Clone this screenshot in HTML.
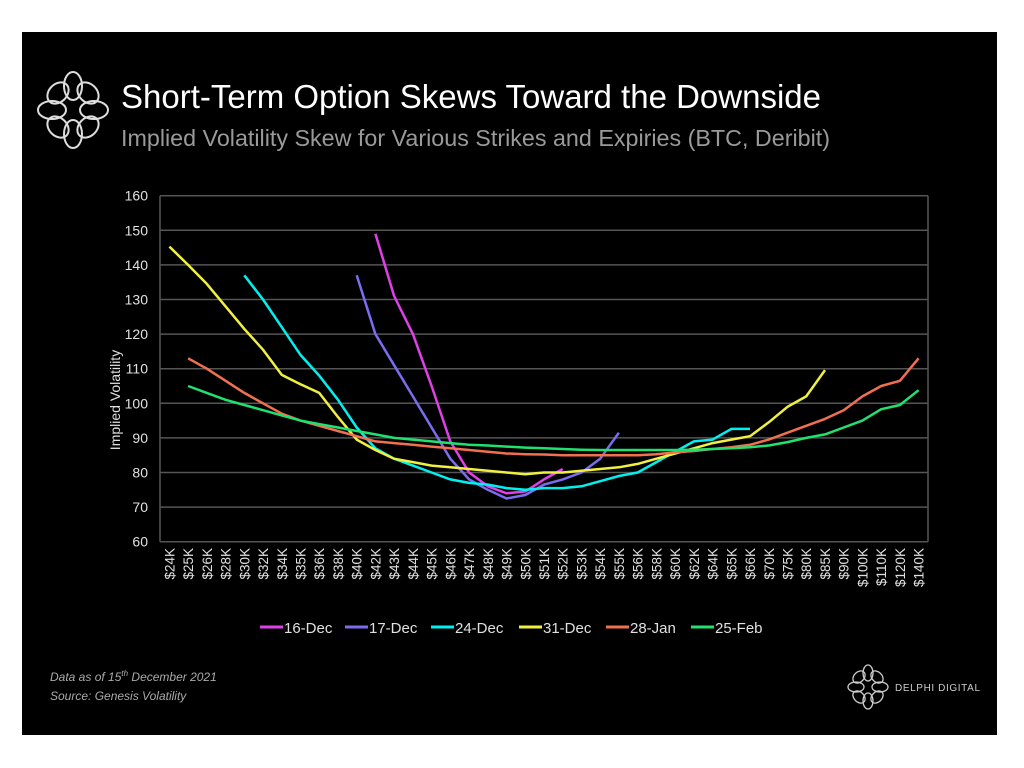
<!DOCTYPE html>
<html><head><meta charset="utf-8"><style>
html,body{margin:0;padding:0;background:#fff;width:1024px;height:768px;overflow:hidden}
svg{display:block}
text{font-family:"Liberation Sans",sans-serif}
</style></head><body>
<svg width="1024" height="768" viewBox="0 0 1024 768" xmlns="http://www.w3.org/2000/svg">
<rect x="22" y="32" width="975" height="703" fill="#000"/>
<g fill="none" stroke="#ddd" stroke-width="2">
<ellipse cx="73" cy="86" rx="9" ry="14"/><ellipse cx="73" cy="134" rx="9" ry="14"/>
<ellipse cx="52" cy="110" rx="14" ry="9"/><ellipse cx="94" cy="110" rx="14" ry="9"/>
<ellipse cx="58" cy="93" rx="12" ry="9" transform="rotate(-45 58 93)"/><ellipse cx="88" cy="93" rx="12" ry="9" transform="rotate(45 88 93)"/>
<ellipse cx="58" cy="127" rx="12" ry="9" transform="rotate(45 58 127)"/><ellipse cx="88" cy="127" rx="12" ry="9" transform="rotate(-45 88 127)"/>
</g>
<text x="121" y="108" fill="#fff" font-size="33" textLength="700" lengthAdjust="spacingAndGlyphs">Short-Term Option Skews Toward the Downside</text>
<text x="121" y="146" fill="#9a9a9a" font-size="23" textLength="709" lengthAdjust="spacingAndGlyphs">Implied Volatility Skew for Various Strikes and Expiries (BTC, Deribit)</text>
<g id="grid" stroke="#555" stroke-width="1.5"></g>
<g id="ylab" fill="#e0e0e0" font-size="14" text-anchor="end"></g>
<g id="xlab" fill="#e0e0e0" font-size="13.5"></g>
<text transform="translate(120 400) rotate(-90)" fill="#e0e0e0" font-size="14" text-anchor="middle">Implied Volatility</text>
<g id="series" fill="none" stroke-width="2.5" stroke-linejoin="round"></g>
<g font-size="15" fill="#e0e0e0">
<line x1="260" y1="627" x2="283" y2="627" stroke="#e040e8" stroke-width="3"/><text x="284" y="633">16-Dec</text>
<line x1="345" y1="627" x2="368" y2="627" stroke="#7b6cf0" stroke-width="3"/><text x="369" y="633">17-Dec</text>
<line x1="431" y1="627" x2="454" y2="627" stroke="#00f0f0" stroke-width="3"/><text x="455" y="633">24-Dec</text>
<line x1="519" y1="627" x2="542" y2="627" stroke="#f0f040" stroke-width="3"/><text x="543" y="633">31-Dec</text>
<line x1="606" y1="627" x2="629" y2="627" stroke="#f07050" stroke-width="3"/><text x="630" y="633">28-Jan</text>
<line x1="691" y1="627" x2="714" y2="627" stroke="#20e070" stroke-width="3"/><text x="715" y="633">25-Feb</text>
</g>
<text x="50" y="681" fill="#aaa" font-size="12" font-style="italic">Data as of 15<tspan font-size="8" dy="-5">th</tspan><tspan dy="5"> December 2021</tspan></text>
<text x="50" y="700" fill="#aaa" font-size="12" font-style="italic">Source: Genesis Volatility</text>
<g fill="none" stroke="#ccc" stroke-width="1.3">
<ellipse cx="868" cy="673" rx="5" ry="8"/><ellipse cx="868" cy="701" rx="5" ry="8"/>
<ellipse cx="856" cy="687" rx="8" ry="5"/><ellipse cx="880" cy="687" rx="8" ry="5"/>
<ellipse cx="859" cy="677" rx="7" ry="5" transform="rotate(-45 859 677)"/><ellipse cx="877" cy="677" rx="7" ry="5" transform="rotate(45 877 677)"/>
<ellipse cx="859" cy="697" rx="7" ry="5" transform="rotate(45 859 697)"/><ellipse cx="877" cy="697" rx="7" ry="5" transform="rotate(-45 877 697)"/>
</g>
<text x="895" y="691" fill="#ccc" font-size="10" textLength="85" lengthAdjust="spacing">DELPHI DIGITAL</text>
</svg>
<script>
var NS="http://www.w3.org/2000/svg";
function el(p,t,a,txt){var e=document.createElementNS(NS,t);for(var k in a)e.setAttribute(k,a[k]);if(txt)e.textContent=txt;document.getElementById(p).appendChild(e);return e;}
var L=160,R=928,T=195.7,B=541.7;
function Y(v){return B-(v-60)*(B-T)/100;}
function X(i){return L+(i+0.5)*(R-L)/41;}
for(var v=60;v<=160;v+=10){el("grid","line",{x1:L,x2:R,y1:Y(v),y2:Y(v)});el("ylab","text",{x:148,y:Y(v)+5},String(v));}
el("grid","line",{x1:L,x2:L,y1:T,y2:B});el("grid","line",{x1:R,x2:R,y1:T,y2:B});
var labs=[24,25,26,28,30,32,34,35,36,38,40,42,43,44,45,46,47,48,49,50,51,52,53,54,55,56,58,60,62,64,65,66,70,75,80,85,90,100,110,120,140];
labs.forEach(function(n,i){var x=X(i)+5;el("xlab","text",{transform:"translate("+x+" 548) rotate(-90)","text-anchor":"end"},"$"+n+"K");});
var S=[
["#e040e8",11,[149,131,120,105,89,80,76,74,74.5,78,81]],
["#7b6cf0",10,[137,120,111,102,93,84,78,75,72.5,73.5,76.5,78,80,84,91.5]],
["#00f0f0",4,[137,130,122,114,108,101,93,87,84,82,80,78,77,76.5,75.5,75,75.5,75.5,76,77.5,79,80,83,86,89,89.5,92.6,92.6]],
["#f0f040",0,[145.3,140,134.5,128,121.5,115.5,108.2,105.5,103,96,89.5,86.5,84,83,82,81.5,81,80.5,80,79.5,80,80,80.5,81,81.5,82.5,84,85.5,87,88.5,89.5,90.5,94.5,99,102,109.6]],
["#f07050",1,[113,110,106.5,103,100,97,95,93.5,92,90.5,89,88.5,88,87.5,87,86.5,86,85.5,85.3,85.2,85,85,85,85,85,85.3,85.8,86.2,86.8,87.3,88,89.5,91.5,93.5,95.5,98,102,105,106.5,113]],
["#20e070",1,[105,103,101,99.5,98,96.5,95,94,93,92,91,90,89.5,89,88.5,88,87.8,87.5,87.2,87,86.8,86.6,86.5,86.5,86.5,86.5,86.5,86.6,86.8,87,87.3,87.8,88.8,90,91,93,95,98.3,99.5,103.8]]
];
S.forEach(function(s){var pts=s[2].map(function(v,k){return X(s[1]+k).toFixed(1)+","+Y(v).toFixed(1);}).join(" ");el("series","polyline",{points:pts,stroke:s[0]});});
</script>
</body></html>
